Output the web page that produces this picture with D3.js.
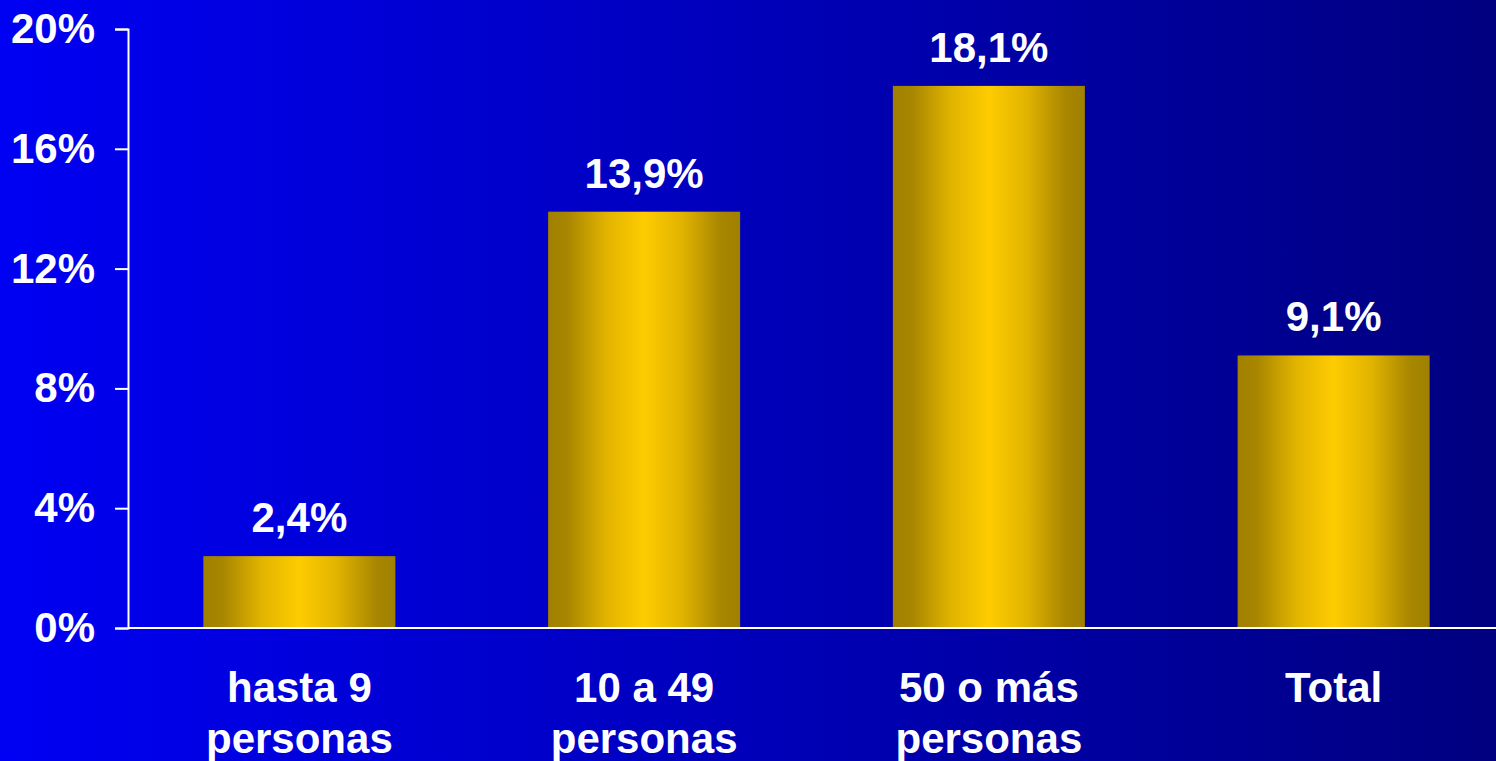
<!DOCTYPE html>
<html><head><meta charset="utf-8">
<script src="https://cdn.jsdelivr.net/npm/d3@7"></script>
<style>html,body{margin:0;padding:0;overflow:hidden;background:#000080}</style>
</head><body>
<svg id="chart" width="1496" height="761"></svg>
<script>
const categories = [["hasta 9","personas"],["10 a 49","personas"],["50 o más","personas"],["Total"]];
const values = [2.4, 13.9, 18.1, 9.1];
const valueLabels = ["2,4%","13,9%","18,1%","9,1%"];
const yTicks = [0,4,8,12,16,20];

const W = 1496, H = 761;
const svg = d3.select("#chart");
const defs = svg.append("defs");
const bg = defs.append("linearGradient").attr("id","bg").attr("x1","0").attr("x2","1").attr("y1","0").attr("y2","0");
bg.append("stop").attr("offset","0").attr("stop-color","#0000F4");
bg.append("stop").attr("offset","1").attr("stop-color","#000080");
const bar = defs.append("linearGradient").attr("id","bar").attr("x1","0").attr("x2","1").attr("y1","0").attr("y2","0");
[["0","#A08000"],["0.1","#A88600"],["0.3","#E0B300"],["0.5","#FFCC00"],["0.7","#E0B300"],["0.9","#A88600"],["1","#A08000"]]
  .forEach(([o,c])=>bar.append("stop").attr("offset",o).attr("stop-color",c));

svg.append("rect").attr("width",W).attr("height",H).attr("fill","url(#bg)");

const x = d3.scaleBand().domain(d3.range(values.length)).range([127,1506]).paddingInner(0.443).paddingOuter(0.2215);
const y = d3.scaleLinear().domain([0,20]).range([628,29]);

const font = "'Liberation Sans', Arial, sans-serif";
const fs = "42px";

// bars
svg.append("g").selectAll("rect").data(values).join("rect")
  .attr("x",(d,i)=>x(i)).attr("width",x.bandwidth())
  .attr("y",d=>y(d)).attr("height",d=>y(0)-y(d))
  .attr("fill","url(#bar)");

// y axis
const yAxis = svg.append("g").attr("transform","translate(128,0)")
  .call(d3.axisLeft(y).tickValues(yTicks).tickSize(13).tickPadding(20).tickFormat(d=>d+"%"));
yAxis.select(".domain").attr("stroke","#fff").attr("stroke-width",2);
yAxis.selectAll(".tick line").attr("stroke","#fff").attr("stroke-width",2);
yAxis.selectAll(".tick text").attr("fill","#fff").attr("font-family",font).attr("font-weight","bold").attr("font-size",fs);

// x axis line
svg.append("line").attr("x1",128).attr("x2",W).attr("y1",y(0)).attr("y2",y(0)).attr("stroke","#fff").attr("stroke-width",2);

// value labels
svg.append("g").selectAll("text").data(values).join("text")
  .attr("x",(d,i)=>x(i)+x.bandwidth()/2).attr("y",d=>y(d)-24)
  .attr("text-anchor","middle").attr("fill","#fff")
  .attr("font-family",font).attr("font-weight","bold").attr("font-size",fs)
  .text((d,i)=>valueLabels[i]);

// category labels
const cat = svg.append("g").selectAll("text").data(categories).join("text")
  .attr("x",(d,i)=>x(i)+x.bandwidth()/2).attr("y",702)
  .attr("text-anchor","middle").attr("fill","#fff")
  .attr("font-family",font).attr("font-weight","bold").attr("font-size",fs);
cat.each(function(d,i){
  const t = d3.select(this);
  d.forEach((line,j)=>t.append("tspan").attr("x",x(i)+x.bandwidth()/2).attr("dy",j===0?0:51).text(line));
});
</script>
</body></html>
